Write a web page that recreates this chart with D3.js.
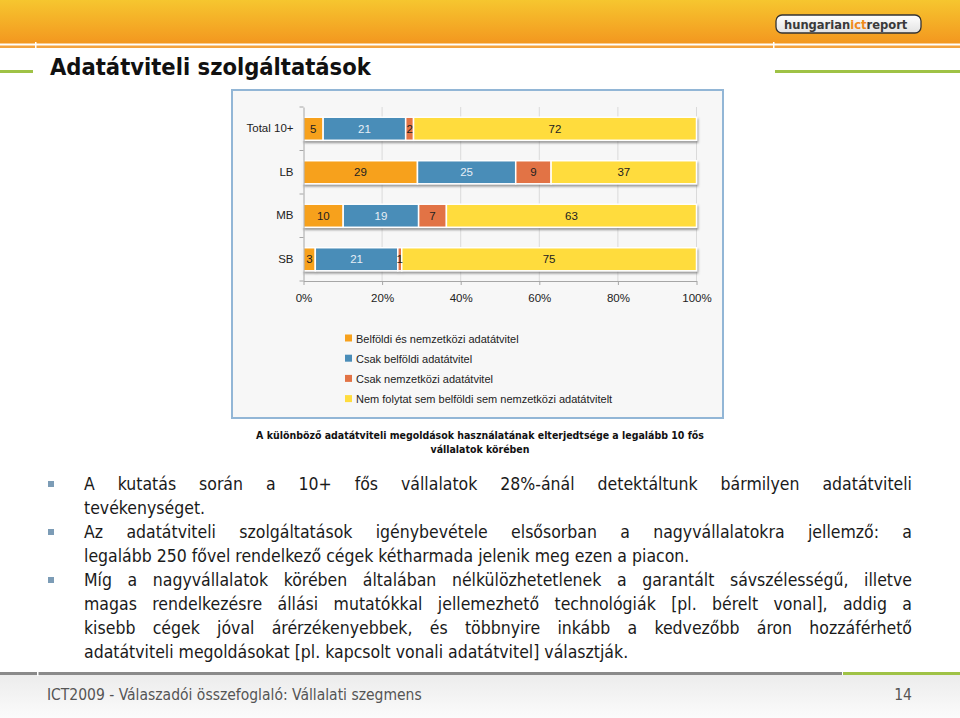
<!DOCTYPE html>
<html>
<head>
<meta charset="utf-8">
<script src="https://cdn.jsdelivr.net/npm/d3@7"></script>
<style>
  html, body { margin: 0; padding: 0; background: #fff; }
  #slide { position: relative; width: 960px; height: 718px; overflow: hidden; }
  #slide svg { position: absolute; left: 0; top: 0; }
  .line {
    position: absolute; left: 84px; width: 828px; height: 24px; line-height: 24px;
    font-family: "DejaVu Sans Condensed", "DejaVu Sans", sans-serif; font-size: 17.5px;
    color: #1a1a1a; white-space: nowrap;
  }
  .line.just { text-align: justify; text-align-last: justify; white-space: normal; }
  .bullet { position: absolute; left: 48px; width: 6px; height: 6px; background: #7c9cb6; }
</style>
</head>
<body>
<div id="slide"></div>
<script>
/* ---- chart data ---- */
const categories = ['Total 10+', 'LB', 'MB', 'SB'];
const seriesNames = [
    'Belföldi és nemzetközi adatátvitel',
    'Csak belföldi adatátvitel',
    'Csak nemzetközi adatátvitel',
    'Nem folytat sem belföldi sem nemzetközi adatátvitelt'
];
const belfoldiEsNemzetkozi = [5, 29, 10, 3];
const csakBelfoldi = [21, 25, 19, 21];
const csakNemzetkozi = [2, 9, 7, 1];
const nemFolytat = [72, 37, 63, 75];
const xTicks = [0, 0.2, 0.4, 0.6, 0.8, 1];

const seriesColors = ['#f7a11c', '#4a8db8', '#e27345', '#ffdc3e'];
const labelColors = ['#222', '#e6eff6', '#222', '#222'];

/* ---- slide text ---- */
const title = 'Adatátviteli szolgáltatások';
const caption = [
    'A különböző adatátviteli megoldások használatának elterjedtsége a legalább 10 fős',
    'vállalatok körében'
];
// [text, justified?, bullet?]
const bodyLines = [
    ['A kutatás során a 10+ fős vállalatok 28%-ánál detektáltunk bármilyen adatátviteli', true, true],
    ['tevékenységet.', false, false],
    ['Az adatátviteli szolgáltatások igénybevétele elsősorban a nagyvállalatokra jellemző: a', true, true],
    ['legalább 250 fővel rendelkező cégek kétharmada jelenik meg ezen a piacon.', false, false],
    ['Míg a nagyvállalatok körében általában nélkülözhetetlenek a garantált sávszélességű, illetve', true, true],
    ['magas rendelkezésre állási mutatókkal jellemezhető technológiák [pl. bérelt vonal], addig a', true, false],
    ['kisebb cégek jóval árérzékenyebbek, és többnyire inkább a kedvezőbb áron hozzáférhető', true, false],
    ['adatátviteli megoldásokat [pl. kapcsolt vonali adatátvitel] választják.', false, false]
];
const footerText = 'ICT2009 - Válaszadói összefoglaló: Vállalati szegmens';
const pageNumber = '14';

const W = 960, H = 718;
const slide = d3.select('#slide');
const svg = slide.append('svg').attr('width', W).attr('height', H);
const defs = svg.append('defs');

// header gradient
const hg = defs.append('linearGradient').attr('id', 'hdr').attr('x1', 0).attr('y1', 0).attr('x2', 0).attr('y2', 1);
hg.append('stop').attr('offset', '0%').attr('stop-color', '#f6c62f');
hg.append('stop').attr('offset', '100%').attr('stop-color', '#f3971f');

const fg = defs.append('linearGradient').attr('id', 'ftr').attr('x1', 0).attr('y1', 0).attr('x2', 0).attr('y2', 1);
fg.append('stop').attr('offset', '0%').attr('stop-color', '#ececec');
fg.append('stop').attr('offset', '100%').attr('stop-color', '#fbfbfb');

const lg = defs.append('linearGradient').attr('id', 'logo').attr('x1', 0).attr('y1', 0).attr('x2', 0).attr('y2', 1);
lg.append('stop').attr('offset', '0%').attr('stop-color', '#ffffff');
lg.append('stop').attr('offset', '100%').attr('stop-color', '#e2e2e2');

const shadow = defs.append('filter').attr('id', 'shadow')
    .attr('x', '-5%').attr('y', '-30%').attr('width', '110%').attr('height', '170%');
shadow.append('feDropShadow').attr('dx', 1).attr('dy', 2).attr('stdDeviation', 0.8)
    .attr('flood-color', '#555').attr('flood-opacity', 0.6);

/* ---- header ---- */
svg.append('rect').attr('x', 0).attr('y', 0).attr('width', W).attr('height', 43.5).attr('fill', 'url(#hdr)');
svg.append('rect').attr('x', 0).attr('y', 45.5).attr('width', W).attr('height', 2.5).attr('fill', '#f4a33e');
[35, 773].forEach(gx => {
    svg.append('rect').attr('x', gx).attr('y', 42).attr('width', 1.5).attr('height', 7).attr('fill', '#fff');
});
svg.append('rect').attr('x', 0).attr('y', 70).attr('width', 33).attr('height', 3).attr('fill', '#9fc246');
svg.append('rect').attr('x', 775).attr('y', 70).attr('width', 185).attr('height', 3).attr('fill', '#9fc246');

// logo
svg.append('rect').attr('x', 776).attr('y', 15).attr('width', 145).attr('height', 18).attr('rx', 6)
    .attr('fill', 'url(#logo)').attr('stroke', '#333').attr('stroke-width', 1.3);
const logo = svg.append('text').attr('x', 784).attr('y', 29)
    .style('font-family', '"DejaVu Sans Condensed", "DejaVu Sans", sans-serif').style('font-size', '12.8px').style('font-weight', 'bold')
    .attr('fill', '#3a3a3a');
logo.append('tspan').text('hungarian');
logo.append('tspan').attr('fill', '#f08a1c').text('ict');
logo.append('tspan').text('report');

// title
svg.append('text').attr('x', 50).attr('y', 75).text(title)
    .style('font-family', '"DejaVu Sans Condensed", "DejaVu Sans", sans-serif')
    .style('font-size', '23.5px').style('font-weight', 'bold').attr('fill', '#111');

/* ---- chart ---- */
svg.append('rect').attr('x', 232).attr('y', 90).attr('width', 491).attr('height', 328)
    .attr('fill', '#f7f7f7').attr('stroke', '#92b6d6').attr('stroke-width', 2);

const x = d3.scaleLinear().domain([0, 1]).range([303.5, 696.5]);
const y = d3.scaleBand().domain(categories).range([107, 281]).paddingInner(0.47).paddingOuter(0.235);

const rows = categories.map((c, i) => ({
    cat: c,
    s0: belfoldiEsNemzetkozi[i], s1: csakBelfoldi[i], s2: csakNemzetkozi[i], s3: nemFolytat[i]
}));
const keys = ['s0', 's1', 's2', 's3'];
const stacked = d3.stack().keys(keys).offset(d3.stackOffsetExpand)(rows);

const chart = svg.append('g');
const chartFont = '"Liberation Sans", Arial, sans-serif';

// gridlines
chart.append('g').selectAll('line').data(xTicks.slice(1)).join('line')
    .attr('x1', d => x(d)).attr('x2', d => x(d))
    .attr('y1', y.range()[0]).attr('y2', y.range()[1])
    .attr('stroke', '#dadada').attr('stroke-width', 1);

// bars
const barRows = chart.append('g').selectAll('g').data(categories).join('g')
    .attr('filter', 'url(#shadow)');
barRows.each(function(cat, ci) {
    d3.select(this).selectAll('rect').data(stacked.map(s => ({ key: s.key, idx: s.index, v: s[ci] }))).join('rect')
        .attr('x', d => x(d.v[0]))
        .attr('y', y(cat))
        .attr('width', d => x(d.v[1]) - x(d.v[0]))
        .attr('height', y.bandwidth())
        .attr('fill', d => seriesColors[d.idx])
        .attr('stroke', '#fff').attr('stroke-width', 1.5);
});

// data labels
const labelData = [];
stacked.forEach(s => s.forEach((v, ci) => labelData.push({ idx: s.index, v, cat: categories[ci], val: v.data[s.key] })));
chart.append('g').selectAll('text').data(labelData).join('text')
    .attr('x', d => (x(d.v[0]) + x(d.v[1])) / 2)
    .attr('y', d => y(d.cat) + y.bandwidth() / 2 + 4)
    .attr('text-anchor', 'middle')
    .style('font-family', chartFont).style('font-size', '11.5px')
    .attr('fill', d => labelColors[d.idx])
    .text(d => d.val);

// y axis
const yAxis = chart.append('g').attr('transform', `translate(${x(0)},0)`)
    .call(d3.axisLeft(y).tickSize(0).tickPadding(10));
yAxis.select('.domain').attr('stroke', '#a6a6a6');
yAxis.selectAll('text').style('font-family', chartFont).style('font-size', '11.5px').attr('fill', '#222');
const bounds = categories.map(c => y(c) - y.step() * y.paddingInner() / 2).concat([y.range()[1]]);
chart.append('g').selectAll('line').data(bounds).join('line')
    .attr('x1', x(0) - 4).attr('x2', x(0)).attr('y1', d => d).attr('y2', d => d)
    .attr('stroke', '#a6a6a6');

// x axis
const xAxis = chart.append('g').attr('transform', `translate(0,${y.range()[1]})`)
    .call(d3.axisBottom(x).tickValues(xTicks).tickFormat(d3.format('.0%')).tickSize(4).tickPadding(9).tickSizeOuter(0));
xAxis.select('.domain').attr('stroke', '#a6a6a6');
xAxis.selectAll('.tick line').attr('stroke', '#a6a6a6');
xAxis.selectAll('text').style('font-family', chartFont).style('font-size', '11.5px').attr('fill', '#222');

// legend
const legend = chart.append('g').selectAll('g').data(seriesNames).join('g')
    .attr('transform', (d, i) => `translate(345,${338.5 + i * 20.2})`);
legend.append('rect').attr('x', 0).attr('y', -4).attr('width', 7).attr('height', 7)
    .attr('fill', (d, i) => seriesColors[i]);
legend.append('text').attr('x', 11).attr('y', 4).text(d => d)
    .style('font-family', chartFont).style('font-size', '11px').attr('fill', '#222');

// caption
svg.append('g').selectAll('text').data(caption).join('text')
    .attr('x', 480).attr('y', (d, i) => 439 + i * 13.5)
    .attr('text-anchor', 'middle').text(d => d)
    .style('font-family', '"DejaVu Sans Condensed", "DejaVu Sans", sans-serif')
    .style('font-size', '10.5px').style('font-weight', 'bold').attr('fill', '#111');

/* ---- footer ---- */
svg.append('rect').attr('x', 0).attr('y', 675).attr('width', W).attr('height', 43).attr('fill', 'url(#ftr)');
svg.append('rect').attr('x', 0).attr('y', 672).attr('width', 842).attr('height', 3).attr('fill', '#8a8a8a');
svg.append('rect').attr('x', 843).attr('y', 672).attr('width', 117).attr('height', 3).attr('fill', '#9fc246');
svg.append('rect').attr('x', 37).attr('y', 671).attr('width', 1.5).attr('height', 5).attr('fill', '#fff');
svg.append('text').attr('x', 47).attr('y', 700).text(footerText)
    .style('font-family', '"DejaVu Sans Condensed", "DejaVu Sans", sans-serif')
    .style('font-size', '15.5px').attr('fill', '#555');
svg.append('text').attr('x', 912).attr('y', 700).attr('text-anchor', 'end').text(pageNumber)
    .style('font-family', '"DejaVu Sans Condensed", "DejaVu Sans", sans-serif')
    .style('font-size', '15.5px').attr('fill', '#555');

/* ---- body text ---- */
bodyLines.forEach((l, i) => {
    const top = 472 + i * 24;
    slide.append('div').attr('class', 'line' + (l[1] ? ' just' : ''))
        .style('top', top + 'px').text(l[0]);
    if (l[2]) slide.append('div').attr('class', 'bullet').style('top', (top + 9) + 'px');
});
</script>
</body>
</html>
